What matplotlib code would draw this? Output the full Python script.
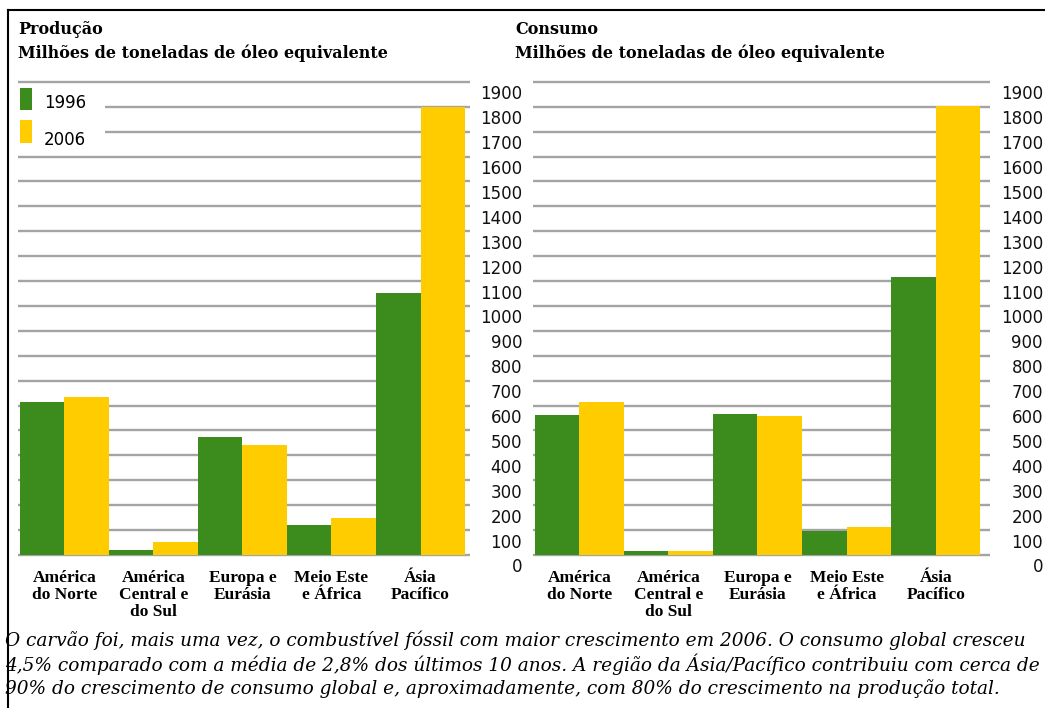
import matplotlib
matplotlib.use("Agg")
import matplotlib.pyplot as plt
from matplotlib.lines import Line2D
from matplotlib.patches import Rectangle
from matplotlib import transforms
import numpy as np

# --- data -------------------------------------------------------------
categories = ["América\ndo Norte", "América\nCentral e\ndo Sul",
              "Europa e\nEurásia", "Meio Este\ne África", "Ásia\nPacífico"]
series_years = ["1996", "2006"]
producao_1996 = [616, 20, 473, 120, 1051]
producao_2006 = [636, 53, 442, 150, 1800]
consumo_1996 = [562, 18, 565, 98, 1115]
consumo_2006 = [616, 15, 558, 111, 1805]
tick_values = list(range(0, 2000, 100))

titles = ["Produção\nMilhões de toneladas de óleo equivalente",
          "Consumo\nMilhões de toneladas de óleo equivalente"]
caption = ("O carvão foi, mais uma vez, o combustível fóssil com maior crescimento em 2006. O consumo global cresceu\n"
           "4,5% comparado com a média de 2,8% dos últimos 10 anos. A região da Ásia/Pacífico contribuiu com cerca de\n"
           "90% do crescimento de consumo global e, aproximadamente, com 80% do crescimento na produção total.")

GREEN = "#3b8b1d"
YELLOW = "#ffcc00"
GRID = "#a4a4a4"

W, H = 1045, 708
fig = plt.figure(figsize=(W / 100, H / 100), dpi=100)
fig.patch.set_facecolor("white")


def fx(x):
    return x / W


def fy(y):
    return 1 - y / H


YMIN, YMAX = -60, 1930
BASE_PX = 555.0
PX_PER_UNIT = 0.249
top_px = BASE_PX - YMAX * PX_PER_UNIT
bot_px = BASE_PX - YMIN * PX_PER_UNIT


def make_panel(x0, x1, xlim, v1996, v2006, label_right_px, title_x, title):
    ax = fig.add_axes([fx(x0), fy(bot_px), (x1 - x0) / W, (bot_px - top_px) / H])
    ax.set_xlim(*xlim)
    ax.set_ylim(YMIN, YMAX)
    for s in ax.spines.values():
        s.set_visible(False)
    ax.set_xticks([])
    ax.set_yticks([])
    ax.patch.set_alpha(0)

    # horizontal grid every 100 units
    for v in tick_values:
        ax.axhline(v, color=GRID, lw=1.7, zorder=1)

    x = np.arange(len(categories))
    ax.bar(x - 0.25, v1996, width=0.5, color=GREEN, zorder=2, linewidth=0)
    ax.bar(x + 0.25, v2006, width=0.5, color=YELLOW, zorder=2, linewidth=0)

    # value labels on the right, sitting between grid lines
    tr = transforms.blended_transform_factory(fig.transFigure, ax.transData)
    for v in tick_values:
        ax.text(fx(label_right_px), v - 50, str(v), transform=tr,
                ha="right", va="center", fontsize=12,
                family="DejaVu Sans", color="#111111")

    # category labels under the groups
    trc = transforms.blended_transform_factory(ax.transData, fig.transFigure)
    for i, c in enumerate(categories):
        ax.text(i, fy(570), c, transform=trc, ha="center", va="top",
                fontsize=12.5, fontweight="bold", family="Liberation Serif",
                linespacing=1.1, color="black")

    fig.text(fx(title_x), fy(21), title,
             ha="left", va="top", fontsize=11.5, fontweight="bold",
             family="DejaVu Serif", linespacing=1.45)
    return ax


ax1 = make_panel(18, 470, (-0.522, 4.556), producao_1996, producao_2006,
                 522, 18, titles[0])
ax2 = make_panel(533, 990, (-0.52, 4.61), consumo_1996, consumo_2006,
                 1043, 515, titles[1])

# legend block in the top-left corner of the first panel
fig.add_artist(Rectangle((fx(18), fy(150)), 87 / W, 60 / H,
                         transform=fig.transFigure, facecolor="white",
                         edgecolor="none", zorder=5))
for (py0, py1, ty), col, lab in zip([(88, 110, 103), (120, 143, 140)],
                                    [GREEN, YELLOW], series_years):
    fig.add_artist(Rectangle((fx(20), fy(py1)), 12 / W, (py1 - py0) / H,
                             transform=fig.transFigure, facecolor=col,
                             edgecolor="none", zorder=6))
    fig.text(fx(44), fy(ty), lab, ha="left", va="center", fontsize=12,
             family="DejaVu Sans", zorder=7)

# caption
fig.text(fx(5), fy(630), caption, ha="left", va="top", fontsize=13.3,
         style="italic", family="DejaVu Serif", linespacing=1.25)

# frame lines
fig.add_artist(Line2D([fx(8), 1], [fy(10), fy(10)], color="black", lw=1.5,
                      transform=fig.transFigure))
fig.add_artist(Line2D([fx(8), fx(8)], [fy(10), 0], color="black", lw=1.5,
                      transform=fig.transFigure))

fig.savefig("out.png", dpi=100, facecolor="white")
